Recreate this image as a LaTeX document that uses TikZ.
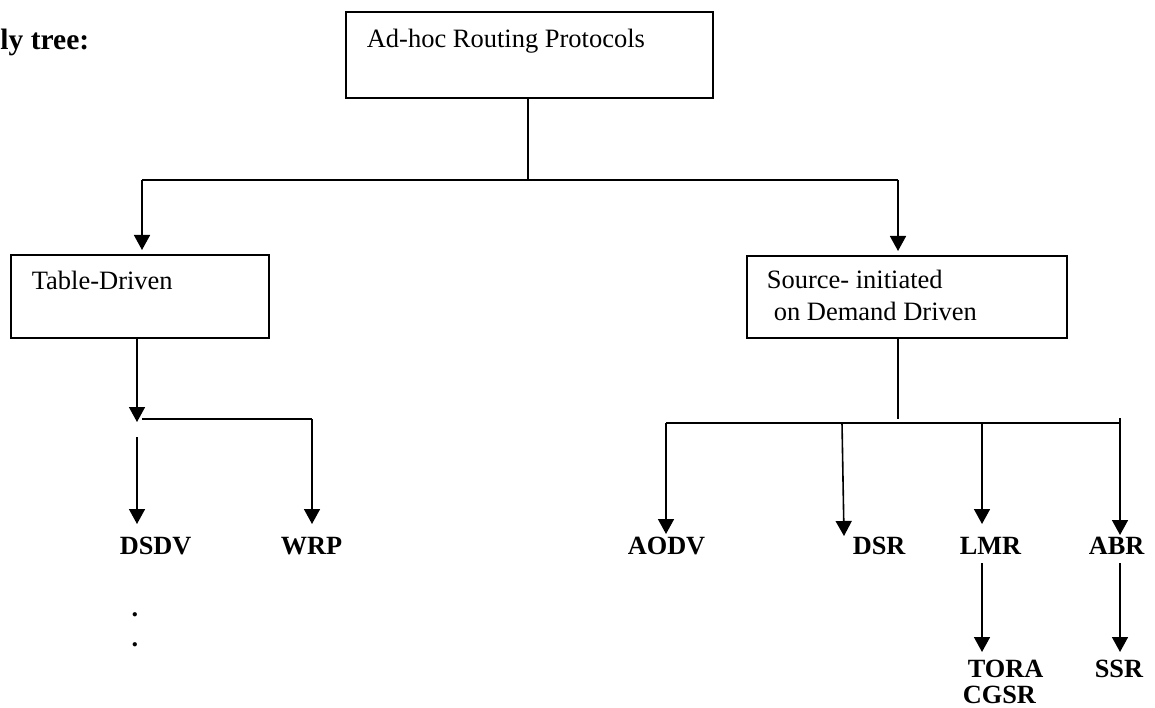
\documentclass[tikz,border=0pt]{standalone}
\usepackage{fontspec}
\setmainfont{Liberation Serif}
\usetikzlibrary{arrows.meta}
\begin{document}
\begin{tikzpicture}[x=1pt,y=-1pt,
  line width=1.6pt,
  boxshape/.style={draw, rectangle, inner sep=0pt, anchor=north west},
  reglabel/.style={inner sep=0pt, anchor=base west, font=\fontsize{26.5}{30}\selectfont},
  boldlabel/.style={inner sep=0pt, anchor=base west, font=\fontsize{26.3}{30}\selectfont\bfseries},
  arr/.style={-{Triangle[width=16pt,length=15pt]}}]
\useasboundingbox (0,0) rectangle (1155,708);

% heading fragment
\node[inner sep=0pt, anchor=base east, font=\fontsize{29.5}{32}\selectfont\bfseries] (head) at (90,50) {ly tree:};

% boxes
\node[boxshape, minimum width=367pt, minimum height=86pt] (root) at (345,11) {};
\node[reglabel] (roottxt) at (366,48) {Ad-hoc Routing Protocols};

\node[boxshape, minimum width=258pt, minimum height=83pt] (td) at (10,254) {};
\node[reglabel] (tdtxt) at (31,290) {Table-Driven};

\node[boxshape, minimum width=320pt, minimum height=82pt] (src) at (746,255) {};
\node[reglabel] (srctxt1) at (766,288) {Source- initiated};
\node[reglabel] (srctxt2) at (773,320) {on Demand Driven};

% leaf labels
\node[boldlabel] (dsdv) at (119,554) {DSDV};
\node[boldlabel] (wrp)  at (280,554) {WRP};
\node[boldlabel] (aodv) at (627,554) {AODV};
\node[boldlabel] (dsr)  at (852,554) {DSR};
\node[boldlabel] (lmr)  at (959,554) {LMR};
\node[boldlabel] (abr)  at (1088,554) {ABR};
\node[boldlabel] (tora) at (967,677) {TORA};
\node[boldlabel] (ssr)  at (1094,677) {SSR};
\node[boldlabel] (cgsr) at (962,703) {CGSR};
\node[boldlabel, anchor=base] (dot1) at (135,616.5) {.};
\node[boldlabel, anchor=base] (dot2) at (135,646.5) {.};

% junction coordinates
\coordinate (j1) at (528,180);
\coordinate (jl) at (142,180);
\coordinate (jr) at (898,180);
\coordinate (tdTop) at (142,250);
\coordinate (srcTop) at (898,251);

\coordinate (tdBot) at (137,337);
\coordinate (lj) at (137,422);
\coordinate (lh1) at (142,419);
\coordinate (lh2) at (312,419);
\coordinate (wrpTip) at (312,524);
\coordinate (dsdvStart) at (137,437);
\coordinate (dsdvTip) at (137,524);

\coordinate (srcBot) at (898,337);
\coordinate (rj) at (898,419);
\coordinate (rh1) at (666,423);
\coordinate (rh2) at (1120,423);
\coordinate (rtick) at (1120,418);
\coordinate (aodvTip) at (666,534);
\coordinate (dsrTop) at (842,423);
\coordinate (dsrTip) at (844,536);
\coordinate (lmrTop) at (982,423);
\coordinate (lmrTip) at (982,524);
\coordinate (abrTip) at (1120,535);
\coordinate (lmrBot) at (982,563);
\coordinate (toraTip) at (982,652);
\coordinate (abrBot) at (1120,563);
\coordinate (ssrTip) at (1120,652);

% connectors
\draw (root.south -| j1) -- (j1);
\draw (jl) -- (jr);
\draw[arr] (jl) -- (tdTop);
\draw[arr] (jr) -- (srcTop);

\draw[arr] (tdBot) -- (lj);
\draw (lh1) -- (lh2);
\draw[arr] (lh2) -- (wrpTip);
\draw[arr] (dsdvStart) -- (dsdvTip);

\draw (srcBot) -- (rj);
\draw (rh1) -- (rh2);
\draw (rtick) -- (rh2);
\draw[arr] (rh1) -- (aodvTip);
\draw[arr] (dsrTop) -- (dsrTip);
\draw[arr] (lmrTop) -- (lmrTip);
\draw[arr] (rh2) -- (abrTip);
\draw[arr] (lmrBot) -- (toraTip);
\draw[arr] (abrBot) -- (ssrTip);
\end{tikzpicture}
\end{document}
